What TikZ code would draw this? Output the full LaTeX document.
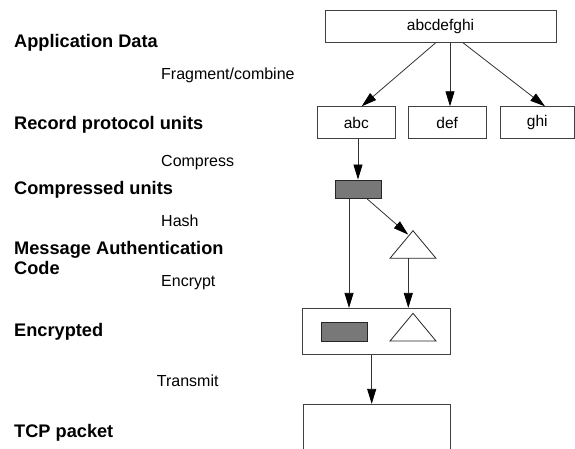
\documentclass[tikz,border=0pt]{standalone}
\usepackage{fontspec}
\setmainfont{Liberation Sans}
\usetikzlibrary{arrows.meta,calc}
\definecolor{fillgray}{HTML}{787878}
\begin{document}
\begin{tikzpicture}[x=1pt,y=-1pt,
  box/.style={draw=black!75, line width=0.8pt, inner sep=0pt, font=\fontsize{15.5}{18}\selectfont},
  graybox/.style={draw=black!85, fill=fillgray, line width=0.8pt, inner sep=0pt, minimum width=46pt, minimum height=18.7pt},
  tri/.style={draw=black!85, fill=white, line width=0.8pt, line join=miter},
  lbl/.style={anchor=base west, inner sep=0pt, font=\fontsize{18.2}{20}\selectfont\bfseries},
  step lbl/.style={anchor=base west, inner sep=0pt, font=\fontsize{16}{19}\selectfont},
  arr/.style={draw=black!80, line width=0.8pt, -{Triangle[length=15pt,width=9pt,black]}}
]
\useasboundingbox (0,0) rectangle (575,448);

% left labels
\node[lbl] (lApp) at (14,47.3) {Application Data};
\node[step lbl] (lFrag) at (161,79.3) {Fragment/combine};
\node[lbl] (lRec) at (14,129.3) {Record protocol units};
\node[step lbl] (lComp) at (161,166.7) {Compress};
\node[lbl] (lCu) at (14,194) {Compressed units};
\node[step lbl] (lHash) at (161,226.3) {Hash};
\node[lbl] (lMac1) at (14,254.7) {Message Authentication};
\node[lbl] (lMac2) at (14,274.7) {Code};
\node[step lbl] (lEnc) at (161,286.7) {Encrypt};
\node[lbl] (lEncd) at (14,336) {Encrypted};
\node[step lbl] (lTr) at (156.7,386.7) {Transmit};
\node[lbl] (lTcp) at (14,437.3) {TCP packet};

% boxes
\node[box, minimum width=231pt, minimum height=32.3pt] (app) at (440.5,26.2) {abcdefghi};
\node[box, minimum width=78pt, minimum height=31.6pt] (abc) at (356.3,122.5) {abc};
\node[box, minimum width=77.7pt, minimum height=31.6pt] (def) at (447.2,122.5) {def};
\node[box, minimum width=74.5pt, minimum height=31.6pt] (ghi) at (537.25,122.5) {ghi};
\node[graybox] (comp) at (358,189.3) {};
\node[box, minimum width=147.3pt, minimum height=46pt] (enc) at (376.3,331.3) {};
\node[graybox] (encg) at (344.3,331.7) {};
\node[box, minimum width=147pt, minimum height=60pt] (tcp) at (376.5,434.3) {};

% MAC triangles
\coordinate (macA) at (413,230.7);
\coordinate (macL) at (390,258.3);
\coordinate (macR) at (436,258.3);
\draw[tri] (macL) -- (macA) -- (macR) -- cycle;
\coordinate (encA) at (413,313.3);
\coordinate (encL) at (390,341);
\coordinate (encR) at (436,341);
\draw[tri] (encL) -- (encA) -- (encR) -- cycle;
\coordinate (macIn) at (408.2,234.6);
\coordinate (macOut) at (408.3,258.3);

% arrows
\draw[arr] ([xshift=-4.8pt]app.south) -- ([xshift=5.4pt]abc.north);
\draw[arr] ([xshift=9.5pt]app.south) -- ([xshift=9.5pt]app.south |- def.north);
\draw[arr] ([xshift=22.5pt]app.south) -- ([xshift=7.75pt]ghi.north);
\draw[arr] (comp.north |- abc.south) -- (comp.north);
\draw[arr] ([xshift=9.3pt]comp.south) -- (macIn);
\draw[arr] ([xshift=-9pt]comp.south) -- ([xshift=-9pt]comp.south |- enc.north);
\draw[arr] (macOut) -- (macOut |- enc.north);
\draw[arr] ([xshift=-4.6pt]enc.south) -- ([xshift=-4.6pt]enc.south |- tcp.north);
\end{tikzpicture}
\end{document}
